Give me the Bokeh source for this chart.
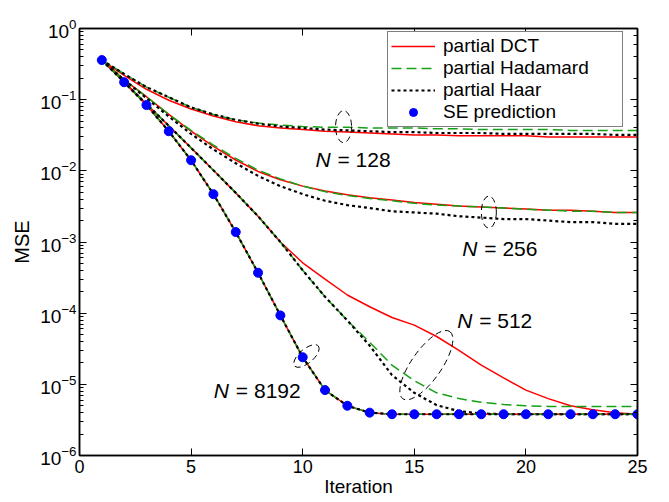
from bokeh.plotting import figure
from bokeh.models import (LinearAxis, LogAxis, Legend, LegendItem, Label, FixedTicker,
                          CustomJSTickFormatter, Range1d, LogTicker)
from bokeh.embed import file_html
from bokeh.resources import INLINE

iters = list(range(1, 26))

# N = 128
dct_128 = [0.36, 0.22, 0.14, 0.098, 0.074, 0.059, 0.049, 0.043, 0.040, 0.038, 0.036, 0.035, 0.034,
           0.033, 0.032, 0.032, 0.031, 0.031, 0.031, 0.031, 0.030, 0.030, 0.030, 0.030, 0.030]
had_128 = [0.36, 0.23, 0.15, 0.108, 0.078, 0.062, 0.052, 0.047, 0.044, 0.042, 0.041, 0.041, 0.040,
           0.040, 0.040, 0.039, 0.039, 0.038, 0.038, 0.038, 0.038, 0.037, 0.037, 0.037, 0.037]
haar_128 = [0.36, 0.23, 0.15, 0.108, 0.078, 0.062, 0.052, 0.046, 0.042, 0.040, 0.038, 0.037, 0.036,
            0.035, 0.035, 0.034, 0.034, 0.034, 0.033, 0.033, 0.033, 0.033, 0.033, 0.032, 0.032]

# N = 256
dct_256 = [0.36, 0.19, 0.11, 0.062, 0.036, 0.022, 0.0142, 0.0098, 0.0075, 0.0061, 0.0052, 0.0046,
           0.0042, 0.0039, 0.0036, 0.0034, 0.0032, 0.0031, 0.0030, 0.0029, 0.0028, 0.0028, 0.0027,
           0.0026, 0.0026]
had_256 = [0.36, 0.19, 0.11, 0.062, 0.037, 0.023, 0.0150, 0.0102, 0.0077, 0.0061, 0.0051, 0.0045,
           0.0041, 0.0038, 0.0035, 0.0033, 0.0032, 0.0031, 0.0030, 0.0029, 0.0028, 0.0027, 0.0027,
           0.0026, 0.0026]
haar_256 = [0.36, 0.19, 0.105, 0.058, 0.033, 0.020, 0.0128, 0.0085, 0.0061, 0.0047, 0.0038, 0.0033,
            0.0030, 0.0027, 0.0026, 0.0025, 0.0023, 0.0022, 0.0021, 0.0021, 0.0020, 0.0019, 0.0019,
            0.0018, 0.0018]

# N = 512
dct_512 = [0.36, 0.178, 0.087, 0.043, 0.021, 0.0102, 0.0049, 0.0023, 0.0010, 5.1e-4, 3.0e-4, 1.8e-4,
           1.23e-4, 8.7e-5, 6.8e-5, 4.7e-5, 3.0e-5, 1.86e-5, 1.23e-5, 8.3e-6, 6.3e-6, 5.0e-6, 4.4e-6,
           4.0e-6, 3.8e-6]
had_512 = [0.36, 0.178, 0.087, 0.043, 0.021, 0.0102, 0.0049, 0.0023, 0.0010, 4.0e-4, 1.7e-4, 7.9e-5,
           3.9e-5, 1.86e-5, 1.12e-5, 7.6e-6, 6.3e-6, 5.6e-6, 5.2e-6, 5.0e-6, 4.9e-6, 4.9e-6, 4.9e-6,
           4.9e-6, 4.9e-6]
haar_512 = [0.36, 0.178, 0.087, 0.043, 0.021, 0.0102, 0.0049, 0.0023, 0.0010, 4.0e-4, 1.7e-4, 7.9e-5,
            3.5e-5, 1.35e-5, 7.6e-6, 5.1e-6, 4.2e-6, 3.9e-6, 3.8e-6, 3.8e-6, 3.8e-6, 3.8e-6, 3.8e-6,
            3.8e-6, 3.8e-6]

# N = 8192
dct_8192 = [0.36, 0.176, 0.084, 0.036, 0.0141, 0.0047, 0.00138, 3.7e-4, 9.3e-5, 2.4e-5, 8.3e-6, 5.0e-6,
            4.0e-6, 3.8e-6, 3.8e-6, 3.8e-6, 3.8e-6, 3.8e-6, 3.8e-6, 3.8e-6, 3.8e-6, 3.8e-6, 3.8e-6,
            3.8e-6, 3.8e-6]
had_8192 = [0.36, 0.176, 0.084, 0.036, 0.0141, 0.0047, 0.00138, 3.7e-4, 9.3e-5, 2.4e-5, 8.3e-6, 5.0e-6,
            4.0e-6, 3.8e-6, 3.8e-6, 3.8e-6, 3.8e-6, 3.8e-6, 3.8e-6, 3.8e-6, 3.8e-6, 3.8e-6, 3.8e-6,
            3.8e-6, 3.8e-6]
haar_8192 = [0.36, 0.176, 0.084, 0.036, 0.0141, 0.0047, 0.00138, 3.7e-4, 9.3e-5, 2.4e-5, 8.3e-6, 5.0e-6,
             4.0e-6, 3.8e-6, 3.8e-6, 3.8e-6, 3.8e-6, 3.8e-6, 3.8e-6, 3.8e-6, 3.8e-6, 3.8e-6, 3.8e-6,
             3.8e-6, 3.8e-6]

# SE prediction
se_pred = [0.36, 0.176, 0.084, 0.036, 0.0141, 0.0047, 0.00138, 3.7e-4, 9.3e-5, 2.4e-5, 8.3e-6, 5.0e-6,
           4.0e-6, 3.8e-6, 3.8e-6, 3.8e-6, 3.8e-6, 3.8e-6, 3.8e-6, 3.8e-6, 3.8e-6, 3.8e-6, 3.8e-6,
           3.8e-6, 3.8e-6]

x_ticks = [0, 5, 10, 15, 20, 25]

# annotation: group labels and ellipses
group_names = ["128", "256", "512", "8192"]
label_x = [10.57, 17.15, 16.92, 6.02]
label_y = [0.0146, 8.2e-4, 7.9e-5, 8.3e-6]
ell_x = [11.83, 18.34, 15.54, 10.17]
ell_y = [0.0418, 0.00263, 1.86e-5, 2.5e-5]
ell_w = [16, 15, 82, 31]
ell_h = [32, 32, 30, 14]
ell_angle = [0.0, 0.0, 0.96, 0.70]

FONT = "Liberation Sans"
RED = "#ff0000"
GREEN = "#16a016"
BLACK = "#000000"
BLUE = "#0000ff"

p = figure(width=667, height=501, x_range=Range1d(0, 25), y_range=Range1d(1e-6, 1),
           y_axis_type="log", output_backend="svg", toolbar_location=None,
           min_border_left=79, min_border_right=30, min_border_top=28, min_border_bottom=46)
p.grid.visible = False
p.outline_line_color = BLACK
p.outline_line_width = 1.5
p.background_fill_color = "white"
p.border_fill_color = "white"

series = [(dct_128, had_128, haar_128), (dct_256, had_256, haar_256),
          (dct_512, had_512, haar_512), (dct_8192, had_8192, haar_8192)]
r_dct = r_had = r_haar = None
for d, h, hr in series:
    a = p.line(iters, d, line_color=RED, line_width=1.5)
    b = p.line(iters, h, line_color=GREEN, line_width=1.5, line_dash="10 5")
    c = p.line(iters, hr, line_color=BLACK, line_width=2.2, line_dash="3 3")
    if r_dct is None:
        r_dct, r_had, r_haar = a, b, c
r_se = p.scatter(iters, se_pred, size=9, marker="circle", fill_color=BLUE, line_color=BLUE)

p.ellipse(x=ell_x, y=ell_y, width=ell_w, height=ell_h, angle=ell_angle,
          width_units="screen", height_units="screen",
          fill_color=None, line_color=BLACK, line_width=1, line_dash="6 4")

for name, lx, ly in zip(group_names, label_x, label_y):
    p.add_layout(Label(x=lx, y=ly, text="N", text_font=FONT, text_font_style="italic",
                       text_font_size="21px", text_baseline="middle", text_color=BLACK))
    p.add_layout(Label(x=lx, y=ly, x_offset=22, text="= " + name, text_font=FONT,
                       text_font_size="21px", text_baseline="middle", text_color=BLACK))

# axes styling
def style(ax):
    ax.axis_line_color = BLACK
    ax.axis_line_width = 1.5
    ax.major_tick_line_color = BLACK
    ax.major_tick_line_width = 1
    ax.major_tick_in = 7
    ax.major_tick_out = 0
    ax.minor_tick_in = 4
    ax.minor_tick_out = 0
    ax.major_label_text_font = FONT
    ax.major_label_text_font_size = "19px"
    ax.major_label_text_color = BLACK
    ax.axis_label_text_font = FONT
    ax.axis_label_text_font_size = "20px"
    ax.axis_label_text_font_style = "normal"
    ax.axis_label_text_color = BLACK

xb = p.xaxis[0]
xb.ticker = FixedTicker(ticks=x_ticks, minor_ticks=[])
xb.axis_label = "Iteration"
style(xb)
xb.major_label_text_font_size = "18px"
xb.axis_label_text_font_size = "19px"
xb.major_label_standoff = 4
xb.axis_label_standoff = 0

yl = p.yaxis[0]
yl.axis_label = "MSE"
style(yl)
yl.major_label_standoff = 3
yl.axis_label_standoff = 4

empty = CustomJSTickFormatter(code="return ''")
xt = LinearAxis(ticker=FixedTicker(ticks=x_ticks, minor_ticks=[]), formatter=empty)
style(xt)
xt.major_label_standoff = 0
p.add_layout(xt, "above")

yr = LogAxis(ticker=LogTicker(), formatter=CustomJSTickFormatter(code="return ''"))
style(yr)
yr.major_label_standoff = 0
p.add_layout(yr, "right")

legend = Legend(items=[
    LegendItem(label="partial DCT", renderers=[r_dct]),
    LegendItem(label="partial Hadamard", renderers=[r_had]),
    LegendItem(label="partial Haar", renderers=[r_haar]),
    LegendItem(label="SE prediction", renderers=[r_se]),
], location=(308, 328))
legend.label_text_font = FONT
legend.label_text_font_size = "19px"
legend.label_text_color = BLACK
legend.border_line_color = BLACK
legend.border_line_width = 1
legend.background_fill_color = "white"
legend.background_fill_alpha = 1
legend.glyph_width = 44
legend.glyph_height = 20
legend.label_height = 20
legend.label_standoff = 8
legend.spacing = 0
legend.padding = 3
legend.margin = 0
legend.label_width = 176
p.add_layout(legend)

open("out.html", "w").write(file_html(p, INLINE))
